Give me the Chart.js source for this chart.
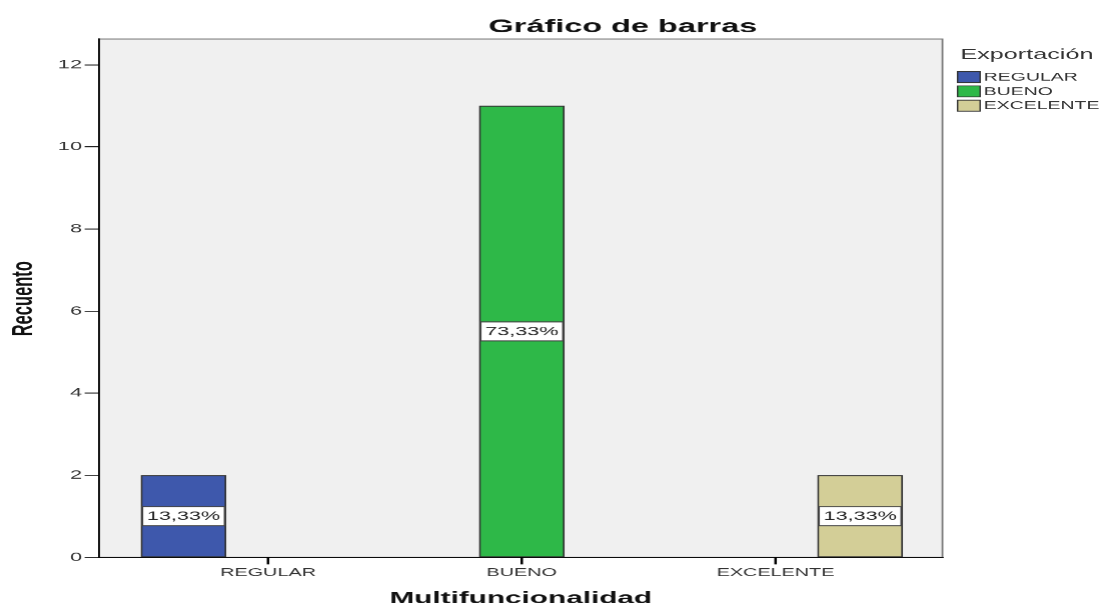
<!DOCTYPE html>
<html>
<head>
<meta charset="utf-8">
<script src="https://cdn.jsdelivr.net/npm/chart.js@4/dist/chart.umd.min.js"></script>
<style>
html,body{margin:0;padding:0;background:#fff;overflow:hidden}
canvas{display:block}
</style>
</head>
<body>
<canvas id="c" width="612" height="606" style="width:1102px;height:606px"></canvas>
<script>
const categories = ['REGULAR', 'BUENO', 'EXCELENTE'];
const seriesNames = ['REGULAR', 'BUENO', 'EXCELENTE'];
const valuesRegular = [2, 0, 0];
const valuesBueno = [0, 11, 0];
const valuesExcelente = [0, 0, 2];
const pctRegular = ['13,33%', '', ''];
const pctBueno = ['', '73,33%', ''];
const pctExcelente = ['', '', '13,33%'];
const yTickValues = [0, 2, 4, 6, 8, 10, 12];
const titleText = 'Gráfico de barras';
const xTitle = 'Multifuncionalidad';
const yTitle = 'Recuento';
const legendTitle = 'Exportación';

const seriesColors = ['#3E58AC', '#2EB848', '#D3CE97'];
const FONT = "'Liberation Sans', Arial, sans-serif";

const seriesValues = [valuesRegular, valuesBueno, valuesExcelente];
const seriesPct = [pctRegular, pctBueno, pctExcelente];

const datasets = seriesNames.map((name, i) => ({
  label: name,
  data: categories.map((c, j) => ({ x: j + 1, y: seriesValues[i][j] })),
  backgroundColor: seriesColors[i],
  borderColor: '#333333',
  borderWidth: 1,
  borderSkipped: false,
  categoryPercentage: 1.0,
  barPercentage: 1.0
}));

const deco = {
  id: 'deco',
  beforeDraw(chart) {
    const { ctx, chartArea: a } = chart;
    ctx.save();
    ctx.fillStyle = '#F0F0F0';
    ctx.fillRect(a.left, a.top, a.right - a.left, a.bottom - a.top);
    ctx.strokeStyle = '#7a7a7a';
    ctx.lineWidth = 1;
    ctx.strokeRect(a.left, a.top, a.right - a.left, a.bottom - a.top);
    ctx.restore();
  },
  afterDraw(chart) {
    const { ctx, chartArea: a } = chart;
    ctx.save();
    const xs = chart.scales.x;
    ctx.fillStyle = '#000';
    categories.forEach((c, j) => {
      const px = xs.getPixelForValue(j + 1);
      ctx.fillRect(px - 0.7, a.bottom, 1.4, 7);
    });
    ctx.fillStyle = '#111';
    ctx.font = 'bold 18px ' + FONT;
    ctx.textAlign = 'center';
    ctx.textBaseline = 'alphabetic';
    ctx.fillText(titleText, 345.7, 32);
    ctx.font = 'bold 16.5px ' + FONT;
    ctx.textBaseline = 'middle';
    ctx.fillText(xTitle, (a.left + a.right) / 2, 598);
    ctx.save();
    ctx.translate(13.3, 298.5);
    ctx.rotate(-Math.PI / 2);
    ctx.fillText(yTitle, 0, 0);
    ctx.restore();
    ctx.font = '12px ' + FONT;
    chart.data.datasets.forEach((ds, i) => {
      const meta = chart.getDatasetMeta(i);
      meta.data.forEach((bar, j) => {
        const lbl = seriesPct[i][j];
        if (!seriesValues[i][j] || !lbl) return;
        const p = bar.getProps(['x', 'y', 'base'], true);
        const yc = (p.y + p.base) / 2;
        const w = ctx.measureText(lbl).width + 5;
        const h = 19;
        ctx.fillStyle = '#ffffff';
        ctx.fillRect(p.x - w / 2, yc - h / 2, w, h);
        ctx.strokeStyle = '#444';
        ctx.lineWidth = 1;
        ctx.strokeRect(p.x - w / 2, yc - h / 2, w, h);
        ctx.fillStyle = '#222';
        ctx.textAlign = 'center';
        ctx.textBaseline = 'middle';
        ctx.fillText(lbl, p.x, yc + 0.5);
      });
    });
    ctx.textAlign = 'left';
    ctx.textBaseline = 'alphabetic';
    ctx.fillStyle = '#333';
    ctx.font = '14px ' + FONT;
    ctx.fillText(legendTitle, 533, 59);
    ctx.font = '10.8px ' + FONT;
    chart.data.datasets.forEach((ds, i) => {
      const top = 71.5 + i * 14.3;
      ctx.fillStyle = ds.backgroundColor;
      ctx.fillRect(531.5, top, 12.5, 11);
      ctx.strokeStyle = '#333';
      ctx.lineWidth = 0.8;
      ctx.strokeRect(531.5, top, 12.5, 11);
      ctx.fillStyle = '#333';
      ctx.textBaseline = 'middle';
      ctx.fillText(ds.label, 546, top + 6);
    });
    ctx.restore();
  }
};

new Chart(document.getElementById('c'), {
  type: 'bar',
  data: { datasets },
  options: {
    responsive: false,
    devicePixelRatio: 1.8,
    animation: false,
    layout: { padding: { left: 0, right: 88.9, top: 39, bottom: 0 } },
    plugins: { legend: { display: false }, title: { display: false }, tooltip: { enabled: false } },
    scales: {
      x: {
        type: 'linear',
        min: 0.334,
        max: 3.658,
        offset: false,
        afterBuildTicks: s => { s.ticks = categories.map((c, j) => ({ value: j + 1 })); },
        afterFit: s => { s.height = 49; },
        ticks: {
          font: { family: FONT, size: 11 },
          color: '#333',
          padding: 3,
          maxRotation: 0,
          autoSkip: false,
          callback: v => categories[Math.round(v) - 1]
        },
        grid: { offset: false, drawOnChartArea: false, drawTicks: true, tickLength: 6, color: '#222', lineWidth: 1 },
        border: { display: true, color: '#000', width: 1 }
      },
      y: {
        min: 0,
        max: 12.63,
        afterBuildTicks: s => { s.ticks = yTickValues.map(v => ({ value: v })); },
        afterFit: s => { s.width = 55; },
        ticks: {
          font: { family: FONT, size: 12 },
          color: '#333',
          padding: 1.5,
          callback: v => String(v)
        },
        grid: { drawOnChartArea: false, drawTicks: true, tickLength: 8, color: '#222', lineWidth: 1 },
        border: { display: true, color: '#000', width: 1 }
      }
    }
  },
  plugins: [deco]
});
</script>
</body>
</html>
